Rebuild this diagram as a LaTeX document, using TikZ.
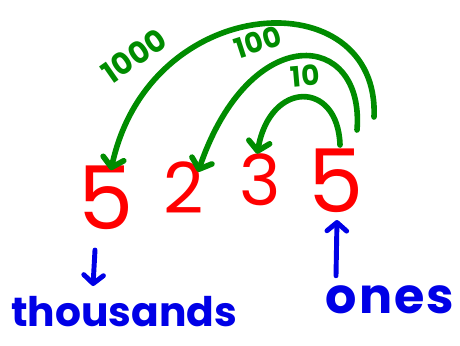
\documentclass[tikz,border=0pt]{standalone}
\usepackage{fontspec}
\setmainfont{Poppins}
\usetikzlibrary{arrows.meta}
\definecolor{penred}{RGB}{255,0,0}
\definecolor{pengreen}{RGB}{0,140,0}
\definecolor{penblue}{RGB}{0,0,230}
\tikzset{
  digit/.style={text=penred, inner sep=0pt, font=\fontsize{125}{125}\selectfont},
  place/.style={text=pengreen, inner sep=0pt, font=\bfseries\fontsize{40}{40}\selectfont},
  word/.style={text=penblue, inner sep=0pt, font=\bfseries\fontsize{58}{58}\selectfont},
  jump/.style={draw=pengreen, line width=8pt, line cap=round,
    -{Straight Barb[length=13pt, width=30pt, line cap=round, line join=round]}},
  pointer/.style={draw=penblue, line width=7pt, line cap=round,
    -{Straight Barb[length=12pt, width=28pt, line cap=round, line join=round]}}
}
\begin{document}
\begin{tikzpicture}[x=0.5mm, y=-0.5mm]
  \useasboundingbox (0,0) rectangle (460,345);
  % the number
  \node[digit] (d1) at (106,198) {5};
  \node[digit, font=\fontsize{100}{100}\selectfont] (d2) at (184,188) {2};
  \node[digit, font=\fontsize{100}{100}\selectfont] (d3) at (260,180) {3};
  \node[digit] (d4) at (336,181) {5};
  % place values
  \node[place, font=\bfseries\fontsize{43}{43}\selectfont, rotate=35] (p1000) at (134,56) {1000};
  \node[place, rotate=18] (p100) at (258,42) {100};
  \node[place, rotate=5] (p10) at (305,76) {10};
  % jumps from the ones
  \coordinate (s10) at (340,145);
  \coordinate (s100) at (357,130);
  \coordinate (s1000) at (374,117);
  \draw[jump] (s10) .. controls (338,80) and (270,80) .. ([xshift=-4]d3.north);
  \draw[jump] (s100) .. controls (365,30) and (250,20) .. ([xshift=20,yshift=-14]d2.north);
  \draw[jump] (s1000) .. controls (380,-20) and (150,-10) .. ([xshift=7,yshift=-6]d1.north);
  % names of the places
  \node[word] (th) at (124,312) {thousands};
  \node[word, font=\bfseries\fontsize{70}{70}\selectfont] (on) at (390,300) {o\kern3pt n\kern3pt e\kern3pt s};
  \draw[pointer] ([shift={(-11,20)}]d1.south) -- ([shift={(-13,56)}]d1.south);
  \draw[pointer] ([shift={(0,-10)}]on.north -| d4.south) -- ([shift={(1,7)}]d4.south);
\end{tikzpicture}
\end{document}
